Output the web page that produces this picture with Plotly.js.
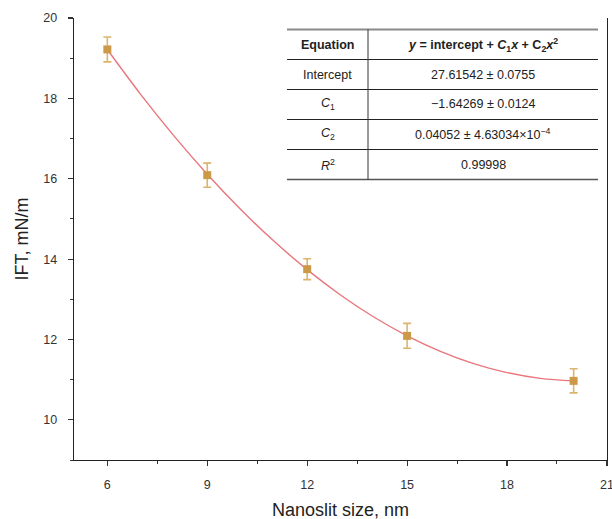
<!DOCTYPE html>
<html><head><meta charset="utf-8">
<script src="https://cdn.plot.ly/plotly-3.0.1.min.js"></script>
<style>html,body{margin:0;padding:0;background:#fff}#chart{width:612px;height:519px}</style>
</head><body><div id="chart"></div>
<script>
// ---- data ----
const sizes = [6, 9, 12, 15, 20];
const ift = [19.22, 16.09, 13.75, 12.09, 10.97];
const iftErr = [0.31, 0.30, 0.26, 0.31, 0.30];
const fitX = [6, 7, 8, 9, 10, 11, 12, 13, 14, 15, 16, 17, 18, 19, 20];
const fitY = [19.218, 18.102, 17.067, 16.113, 15.241, 14.449, 13.738, 13.108, 12.560, 12.092, 11.706, 11.400, 11.175, 11.032, 10.970];
const xTickVals = [6, 9, 12, 15, 18, 21];
const yTickVals = [10, 12, 14, 16, 18, 20];
const xTitle = 'Nanoslit size, nm';
const yTitle = 'IFT, mN/m';
const tableHeader = ["Equation", "<i>y</i> = intercept + <i>C</i><sub>1</sub><i>x</i> + C<sub>2</sub><i>x</i><sup>2</sup>"];
const tableLabels = ["Intercept", "<i>C</i><sub>1</sub>", "<i>C</i><sub>2</sub>", "<i>R</i><sup>2</sup>"];
const tableValues = ["27.61542 ± 0.0755", "−1.64269 ± 0.0124", "0.04052 ± 4.63034×10<sup>−4</sup>", "0.99998"];

// ---- layout geometry (pixels) ----
const W = 612, H = 519;
const M = {l: 74, r: 5, t: 18, b: 59};
const pw = W - M.l - M.r, ph = H - M.t - M.b;
const px = x => (x - M.l) / pw;
const py = y => (H - M.b - y) / ph;

const tab = {x0: 287, x1: 368, x2: 598, top: 29.5, rowH: 30};
const shapes = [];
const annotations = [];
const nRows = tableLabels.length + 1;
for (let i = 0; i <= nRows; i++) {
  const yy = tab.top + i * tab.rowH;
  let color = '#222', width = 1;
  if (i === 0) { color = '#8a8a8a'; width = 2; }
  if (i === nRows) { color = '#555'; width = 1.5; }
  shapes.push({type: 'line', xref: 'paper', yref: 'paper', x0: px(tab.x0), x1: px(tab.x2), y0: py(yy), y1: py(yy), line: {color, width}});
}
shapes.push({type: 'line', xref: 'paper', yref: 'paper', x0: px(tab.x1), x1: px(tab.x1), y0: py(tab.top), y1: py(tab.top + nRows * tab.rowH), line: {color: '#333', width: 1}});
const rows = [tableHeader].concat(tableLabels.map((l, i) => [l, tableValues[i]]));
rows.forEach((r, i) => {
  const yc = py(tab.top + (i + 0.5) * tab.rowH);
  const bold = i === 0;
  annotations.push({xref: 'paper', yref: 'paper', x: px((tab.x0 + tab.x1) / 2), y: yc, text: bold ? '<b>' + r[0] + '</b>' : r[0], showarrow: false, xanchor: 'center', yanchor: 'middle', font: {size: 12.5, color: '#222'}});
  annotations.push({xref: 'paper', yref: 'paper', x: px((tab.x1 + tab.x2) / 2), y: yc, text: bold ? '<b>' + r[1] + '</b>' : r[1], showarrow: false, xanchor: 'center', yanchor: 'middle', font: {size: 12.5, color: '#222'}});
});
// x-axis title placed near the bottom edge as in the reference
annotations.push({xref: 'paper', yref: 'paper', x: 0.5, y: py(510), text: xTitle, showarrow: false, xanchor: 'center', yanchor: 'middle', font: {size: 18, color: '#222'}});

const traces = [
  {x: fitX, y: fitY, type: 'scatter', mode: 'lines', line: {color: '#E8767C', width: 1.4, shape: 'spline'}, hoverinfo: 'skip', cliponaxis: false},
  {x: sizes, y: ift, type: 'scatter', mode: 'markers', cliponaxis: false,
   marker: {symbol: 'square', size: 8, color: '#CC9948'},
   error_y: {type: 'data', array: iftErr, visible: true, color: '#DDB46E', thickness: 1.6, width: 4}}
];

const axisCommon = {
  showgrid: false, zeroline: false, showline: true, linecolor: '#222', linewidth: 1.3,
  ticks: 'outside', ticklen: 5, tickwidth: 1.2, tickcolor: '#333',
  tickfont: {family: 'Liberation Sans, Arial, sans-serif', size: 12.5, color: '#333'},
  ticklabelstandoff: 8, ticklabeloverflow: 'allow'
};

const layout = {
  width: W, height: H, margin: M, showlegend: false,
  paper_bgcolor: '#fff', plot_bgcolor: '#fff',
  font: {family: 'Liberation Sans, Arial, sans-serif'},
  xaxis: Object.assign({}, axisCommon, {
    range: [4.999, 21.002], tickmode: 'array', tickvals: xTickVals,
    minor: {dtick: 1.5, tick0: 4.5, ticklen: 3, tickwidth: 1, tickcolor: '#333', ticks: 'outside'}
  }),
  yaxis: Object.assign({}, axisCommon, {
    range: [9, 20.002], tickmode: 'array', tickvals: yTickVals, mirror: true,
    minor: {dtick: 1, tick0: 9, ticklen: 3, tickwidth: 1, tickcolor: '#333', ticks: 'outside'},
    title: {text: yTitle, font: {size: 18, color: '#222'}}
  }),
  shapes, annotations
};

Plotly.newPlot('chart', traces, layout, {displayModeBar: false, staticPlot: true});
</script>
</body></html>
